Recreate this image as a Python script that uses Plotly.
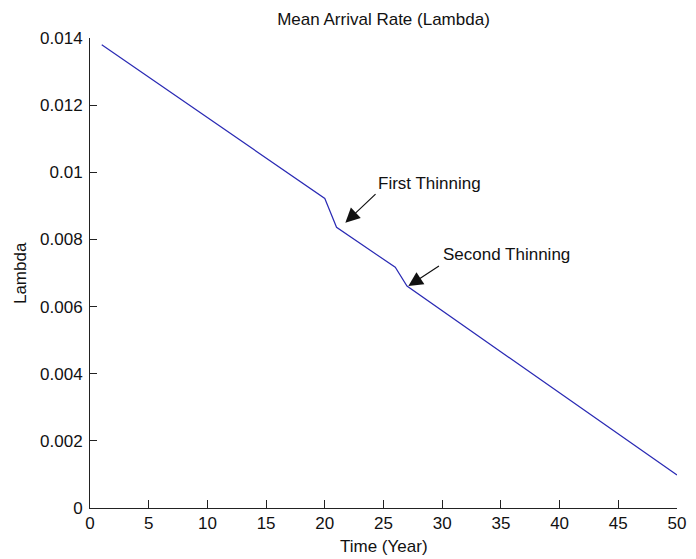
import plotly.graph_objects as go

# Data
years = [1, 20, 21, 26, 27, 50]
lam = [0.0138, 0.00922, 0.00836, 0.00717, 0.00661, 0.00098]

x_ticks = [0, 5, 10, 15, 20, 25, 30, 35, 40, 45, 50]
y_ticks = [0, 0.002, 0.004, 0.006, 0.008, 0.010, 0.012, 0.014]
y_ticktext = ["0", "0.002", "0.004", "0.006", "0.008", "0.01", "0.012", "0.014"]

# annotation (label, text position, arrow tail, arrow tip)
ann_labels = ["First Thinning", "Second Thinning"]
ann_text_xy = [(24.4, 0.00967), (29.9, 0.00754)]
ann_tail_xy = [(24.45, 0.00939), (29.85, 0.00724)]
ann_tip_xy = [(21.75, 0.00850), (27.12, 0.00661)]

FONT = "Liberation Sans, Arial, sans-serif"
W, H = 696, 559
L, R, T, B = 90, 10, 38, 51

fig = go.Figure()
fig.add_trace(go.Scatter(x=years, y=lam, mode="lines",
                         line=dict(color="#2a2ab4", width=1.2),
                         showlegend=False, hoverinfo="skip"))

annotations = []
for lab, (tx, ty), (ax, ay), (hx, hy) in zip(ann_labels, ann_text_xy, ann_tail_xy, ann_tip_xy):
    annotations.append(dict(x=hx, y=hy, ax=ax, ay=ay, xref="x", yref="y",
                            axref="x", ayref="y", text="", showarrow=True,
                            arrowhead=2, arrowsize=2.4, arrowwidth=1.2,
                            arrowcolor="#111111"))
    annotations.append(dict(x=tx, y=ty, xref="x", yref="y", text=lab,
                            showarrow=False, xanchor="left", yanchor="middle",
                            font=dict(family=FONT, size=17, color="#111111")))

pw = W - L - R
ph = H - T - B
annotations.append(dict(x=(19 - L) / pw, y=0.5, xref="paper", yref="paper",
                        text="Lambda", textangle=-90, showarrow=False,
                        xanchor="center", yanchor="middle",
                        font=dict(family=FONT, size=17, color="#111111")))
annotations.append(dict(x=0.5, y=-(546 - (T + ph)) / ph, xref="paper", yref="paper",
                        text="Time (Year)", showarrow=False,
                        xanchor="center", yanchor="middle",
                        font=dict(family=FONT, size=17, color="#111111")))

fig.update_layout(
    width=W, height=H,
    margin=dict(l=L, r=R, t=T, b=B),
    paper_bgcolor="white", plot_bgcolor="white",
    title=dict(text="Mean Arrival Rate (Lambda)", x=0.5, xref="paper",
               y=1 - 19 / H, yref="container", xanchor="center", yanchor="middle",
               font=dict(family=FONT, size=17, color="#111111")),
    annotations=annotations,
    xaxis=dict(range=[0, 50], tickvals=x_ticks, ticks="inside", ticklen=8,
               tickcolor="#222222", tickwidth=1, showline=True, linecolor="#222222",
               linewidth=1, showgrid=False, zeroline=False, mirror=False,
               tickfont=dict(family=FONT, size=17, color="#111111")),
    yaxis=dict(range=[0, 0.014], tickvals=y_ticks, ticktext=y_ticktext,
               ticks="inside", ticklen=7, tickcolor="#222222", tickwidth=1,
               showline=True, linecolor="#222222", linewidth=1, showgrid=False,
               zeroline=False, mirror=False, ticklabelstandoff=3,
               tickfont=dict(family=FONT, size=17, color="#111111")),
)

fig.write_html("out.html")
